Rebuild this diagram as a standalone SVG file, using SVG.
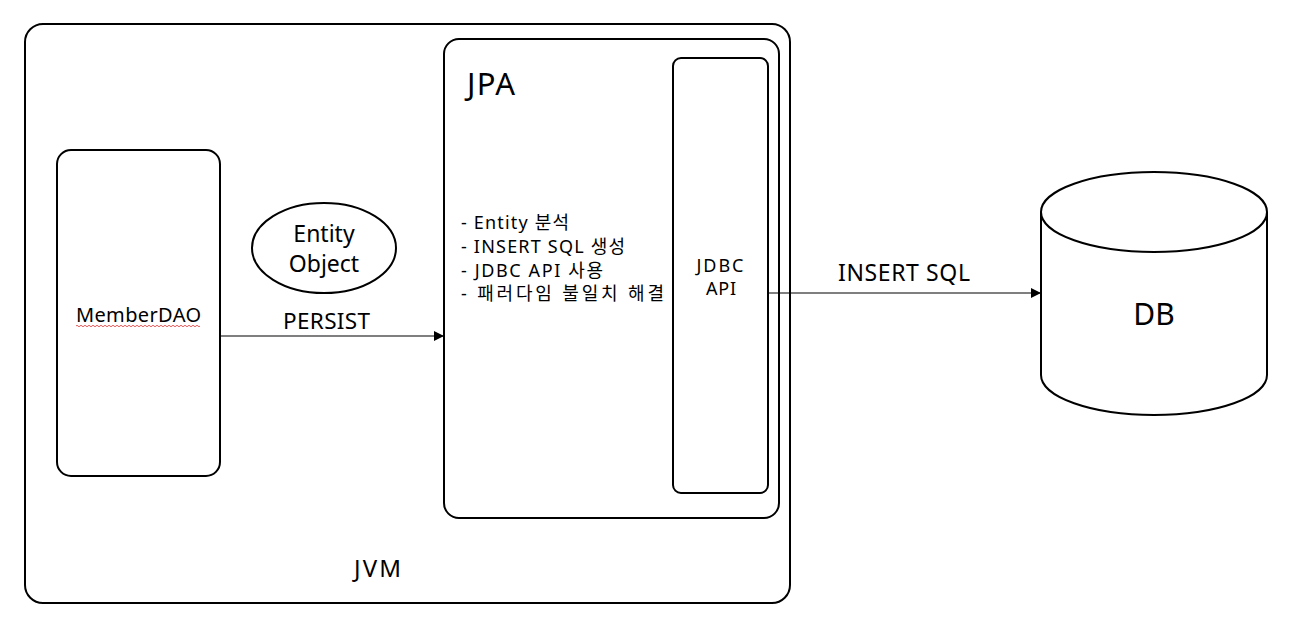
<svg xmlns="http://www.w3.org/2000/svg" width="1294" height="632" viewBox="0 0 1294 632">
<defs>
<style>
.box{fill:#fff;stroke:#000;stroke-width:2}
.t{font-family:"Noto Sans","Noto Sans CJK KR",sans-serif;fill:#000}
.c{stroke:#000;stroke-width:1.2;fill:none}
</style>
<marker id="ah" viewBox="0 0 10 10" refX="10" refY="5" markerWidth="10" markerHeight="10" markerUnits="userSpaceOnUse" orient="auto">
<path d="M0,0 L10,5 L0,10 z" fill="#000"/>
</marker>
</defs>
<rect width="1294" height="632" fill="#fff"/>
<g id="jvm">
<rect class="box" x="25" y="24" width="765" height="579" rx="18"/>
<text class="t" x="354" y="577" font-size="24" textLength="47">JVM</text>
</g>
<g id="jpa">
<rect class="box" x="444" y="39" width="335" height="479" rx="15"/>
<text class="t" x="467" y="95" font-size="31" textLength="48">JPA</text>
<text class="t" x="461" y="229" font-size="18" textLength="108">- Entity 분석</text>
<text class="t" x="461" y="253" font-size="18" textLength="164">- INSERT SQL 생성</text>
<text class="t" x="461" y="277" font-size="18" textLength="142">- JDBC API 사용</text>
<text class="t" x="461" y="300" font-size="18" textLength="203">- 패러다임 불일치 해결</text>
</g>
<g id="jdbc">
<rect class="box" x="673" y="58" width="95" height="435" rx="8"/>
<text class="t" x="720" y="272" font-size="18" text-anchor="middle" textLength="47">JDBC</text>
<text class="t" x="721" y="295" font-size="18" text-anchor="middle" textLength="30">API</text>
</g>
<g id="memberdao">
<rect class="box" x="57" y="150" width="163" height="326" rx="14"/>
<text class="t" x="76" y="322" font-size="20" textLength="125">MemberDAO</text>
<path d="M76,326 q1,-1.5 2,0 t2,0 t2,0 t2,0 t2,0 t2,0 t2,0 t2,0 t2,0 t2,0 t2,0 t2,0 t2,0 t2,0 t2,0 t2,0 t2,0 t2,0 t2,0 t2,0 t2,0 t2,0 t2,0 t2,0 t2,0 t2,0 t2,0 t2,0 t2,0 t2,0 t2,0 t2,0 t2,0 t2,0 t2,0 t2,0 t2,0 t2,0 t2,0 t2,0 t2,0 t2,0 t2,0 t2,0 t2,0 t2,0 t2,0 t2,0 t2,0 t2,0 t2,0 t2,0 t2,0 t2,0 t2,0 t2,0 t2,0 t2,0 t2,0 t2,0 t2,0 t2,0" fill="none" stroke="#e03030" stroke-width="0.8"/>
</g>
<g id="entity">
<ellipse class="box" cx="324" cy="248" rx="72" ry="45"/>
<text class="t" x="324" y="242" font-size="23" text-anchor="middle">Entity</text>
<text class="t" x="324" y="272" font-size="23" text-anchor="middle">Object</text>
</g>
<g id="db">
<path class="box" d="M1041,212 L1041,375 A113,40 0 0 0 1267,375 L1267,212"/>
<ellipse class="box" cx="1154" cy="212" rx="113" ry="40"/>
<text class="t" x="1154" y="325" font-size="30" text-anchor="middle">DB</text>
</g>
<g id="connectors">
<line class="c" x1="220" y1="336" x2="444" y2="336" marker-end="url(#ah)"/>
<text class="t" x="283" y="329" font-size="22.5" textLength="87">PERSIST</text>
<line class="c" x1="768" y1="293" x2="1041" y2="293" marker-end="url(#ah)"/>
<text class="t" x="838" y="281" font-size="23" textLength="132">INSERT SQL</text>
</g>
</svg>
